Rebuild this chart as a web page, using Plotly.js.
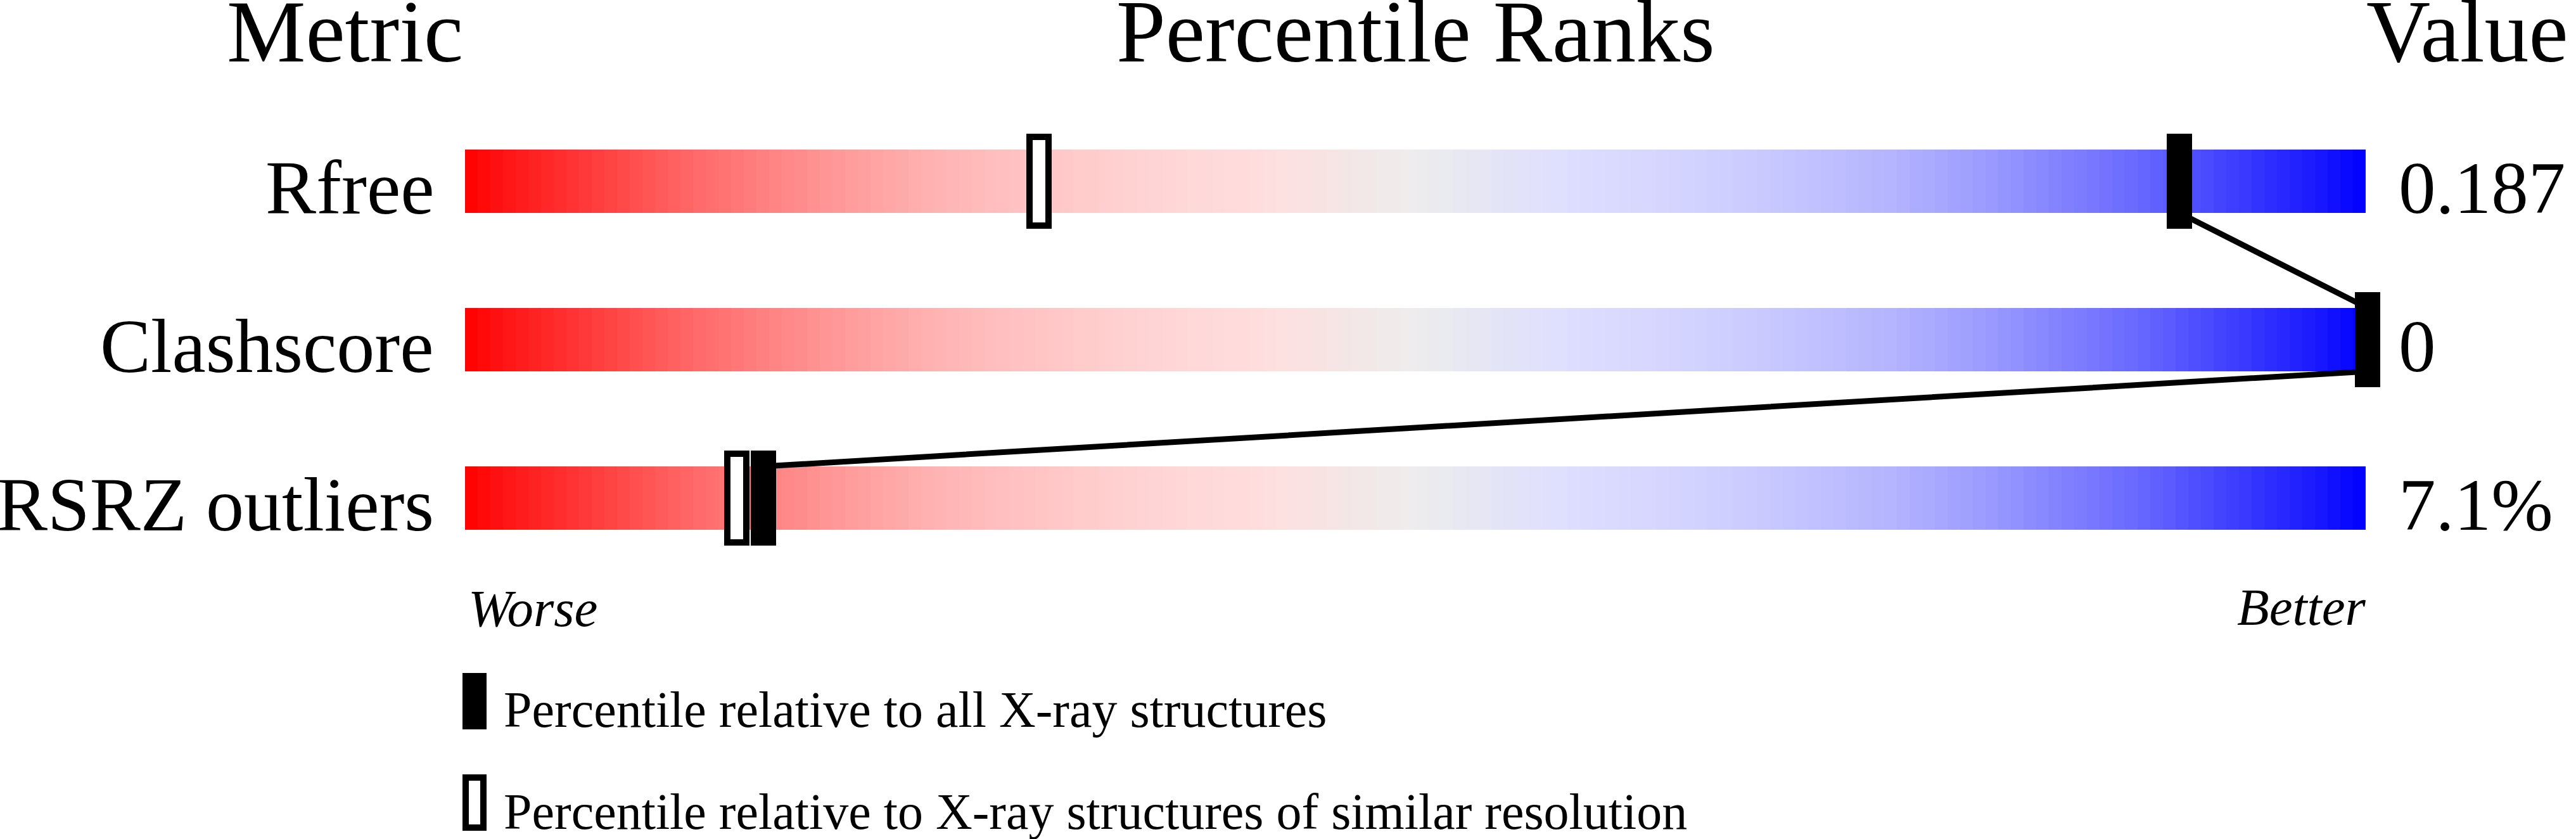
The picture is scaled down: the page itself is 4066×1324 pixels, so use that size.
<!DOCTYPE html>
<html>
<head>
<meta charset="utf-8">
<script src="https://cdn.plot.ly/plotly-3.0.1.min.js"></script>
<style>html,body{margin:0;padding:0;background:#fff;}#chart{width:4066px;height:1324px;}</style>
</head>
<body>
<div id="chart"></div>
<script>
// ---- data ----
const metrics = ['Rfree', 'Clashscore', 'RSRZ outliers'];
const values = ['0.187', '0', '7.1%'];
const pctAll = [90.2, 100.1, 15.7];      // percentile vs all X-ray structures (filled marker)
const pctSimilar = [30.2, 100.1, 14.3];  // percentile vs similar resolution (open marker)
const headers = ['Metric', 'Percentile Ranks', 'Value'];
const scaleEnds = ['Worse', 'Better'];
const legendLabels = ['Percentile relative to all X-ray structures',
                      'Percentile relative to X-ray structures of similar resolution'];

// ---- layout geometry ----
const W = 4066, H = 1324;
const BAR_L = 734, BAR_W = 3000;     // px where percentile 0..100 is drawn
const ROW0 = 286, ROWSTEP = 250;     // row centre px and spacing
const pxX = px => px / W;                        // px -> paper x
const pxY = py => 1 - py / H;                    // px -> paper y
const xUnit = 100 / BAR_W;                       // percentile units per px
const yUnit = 1 / ROWSTEP;                       // row units per px
const barHalf = 50 * yUnit, mkHalfH = 75 * yUnit, mkHalfW = 20 * xUnit;

const colorscale = [
  [0.00, 'rgb(255,0,0)'], [0.03, 'rgb(255,28,28)'], [0.10, 'rgb(255,88,88)'],
  [0.125, 'rgb(255,108,108)'], [0.20, 'rgb(255,155,155)'], [0.25, 'rgb(255,180,180)'],
  [0.30, 'rgb(255,196,196)'], [0.35, 'rgb(255,210,210)'], [0.42, 'rgb(255,222,222)'],
  [0.46, 'rgb(246,229,229)'], [0.50, 'rgb(237,237,237)'], [0.54, 'rgb(229,229,246)'],
  [0.58, 'rgb(222,222,255)'], [0.65, 'rgb(210,210,255)'], [0.70, 'rgb(196,196,255)'],
  [0.75, 'rgb(180,180,255)'], [0.80, 'rgb(155,155,255)'], [0.875, 'rgb(108,108,255)'],
  [0.90, 'rgb(88,88,255)'], [0.97, 'rgb(28,28,255)'], [1.00, 'rgb(0,0,255)']
];

const NB = 150;
const xe = [], zc = [];
for (let k = 0; k <= NB; k++) xe.push(k * 100 / NB);
for (let k = 0; k < NB; k++) zc.push((k + 0.5) * 100 / NB);

const traces = [];
metrics.forEach((m, i) => {
  traces.push({
    type: 'heatmap', x: xe, y: [i - barHalf, i + barHalf], z: [zc],
    zmin: 0, zmax: 100, colorscale: colorscale, showscale: false, hoverinfo: 'skip'
  });
});
// connecting line through filled markers
const lx = [], ly = [];
for (let i = 0; i < pctAll.length - 1; i++) {
  lx.push(pctAll[i], pctAll[i + 1]);
  ly.push(i + barHalf, i + 1 - barHalf);
}
traces.push({type: 'scatter', mode: 'lines', x: lx, y: ly,
  line: {color: '#000', width: 9}, hoverinfo: 'skip', showlegend: false});

const shapes = [];
const bw = 10;
pctSimilar.forEach((p, i) => {
  shapes.push({type: 'rect', xref: 'x', yref: 'y', layer: 'above',
    x0: p - mkHalfW + bw / 2 * xUnit, x1: p + mkHalfW - bw / 2 * xUnit,
    y0: i - mkHalfH + bw / 2 * yUnit, y1: i + mkHalfH - bw / 2 * yUnit,
    fillcolor: '#fff', line: {color: '#000', width: bw}});
});
pctAll.forEach((p, i) => {
  shapes.push({type: 'rect', xref: 'x', yref: 'y', layer: 'above',
    x0: p - mkHalfW, x1: p + mkHalfW, y0: i - mkHalfH, y1: i + mkHalfH,
    fillcolor: '#000', line: {width: 0}});
});
// legend swatches
shapes.push({type: 'rect', xref: 'paper', yref: 'paper', x0: pxX(730), x1: pxX(768),
  y0: pxY(1151), y1: pxY(1062), fillcolor: '#000', line: {width: 0}});
shapes.push({type: 'rect', xref: 'paper', yref: 'paper', x0: pxX(735), x1: pxX(763),
  y0: pxY(1306), y1: pxY(1227), fillcolor: '#fff', line: {color: '#000', width: 10}});

const serif = 'Liberation Serif, Times New Roman, serif';
const ann = [];
const hdrFont = {family: serif, size: 140, color: '#000'};
ann.push({text: headers[0], xref: 'paper', yref: 'paper', x: pxX(733), y: pxY(50), xanchor: 'right', yanchor: 'middle', showarrow: false, font: hdrFont});
ann.push({text: headers[1], xref: 'paper', yref: 'paper', x: pxX(BAR_L + BAR_W / 2), y: pxY(50), xanchor: 'center', yanchor: 'middle', showarrow: false, font: hdrFont});
ann.push({text: headers[2], xref: 'paper', yref: 'paper', x: pxX(3733), y: pxY(50), xanchor: 'left', yanchor: 'middle', showarrow: false, font: hdrFont});
metrics.forEach((m, i) => {
  ann.push({text: m, xref: 'paper', yref: 'y', x: pxX(687), y: i, yshift: -10, xanchor: 'right', yanchor: 'middle', showarrow: false, font: {family: serif, size: 120, color: '#000'}});
  ann.push({text: values[i], xref: 'paper', yref: 'y', x: pxX(3784), y: i, yshift: -10, xanchor: 'left', yanchor: 'middle', showarrow: false, font: {family: serif, size: 117, color: '#000'}});
});
const itFont = {family: serif, size: 83, color: '#000'};
ann.push({text: '<i>' + scaleEnds[0] + '</i>', xref: 'paper', yref: 'paper', x: pxX(737), y: pxY(960), xanchor: 'left', yanchor: 'middle', showarrow: false, font: itFont});
ann.push({text: '<i>' + scaleEnds[1] + '</i>', xref: 'paper', yref: 'paper', x: pxX(3736), y: pxY(958), xanchor: 'right', yanchor: 'middle', showarrow: false, font: itFont});
ann.push({text: legendLabels[0], xref: 'paper', yref: 'paper', x: pxX(793), y: pxY(1120), xanchor: 'left', yanchor: 'middle', showarrow: false, font: {family: serif, size: 80, color: '#000'}});
ann.push({text: legendLabels[1], xref: 'paper', yref: 'paper', x: pxX(793), y: pxY(1281), xanchor: 'left', yanchor: 'middle', showarrow: false, font: {family: serif, size: 80, color: '#000'}});

const yTop = -ROW0 / ROWSTEP, yBot = (H - ROW0) / ROWSTEP;
const xLeft = -BAR_L * xUnit, xRight = (W - BAR_L) * xUnit;
const layout = {
  width: W, height: H,
  margin: {l: 0, r: 0, t: 0, b: 0, pad: 0},
  paper_bgcolor: '#fff', plot_bgcolor: '#fff',
  xaxis: {range: [xLeft, xRight], visible: false, fixedrange: true},
  yaxis: {range: [yBot, yTop], visible: false, fixedrange: true},
  showlegend: false,
  shapes: shapes,
  annotations: ann
};
Plotly.newPlot('chart', traces, layout, {staticPlot: true, displayModeBar: false});
</script>
</body>
</html>
